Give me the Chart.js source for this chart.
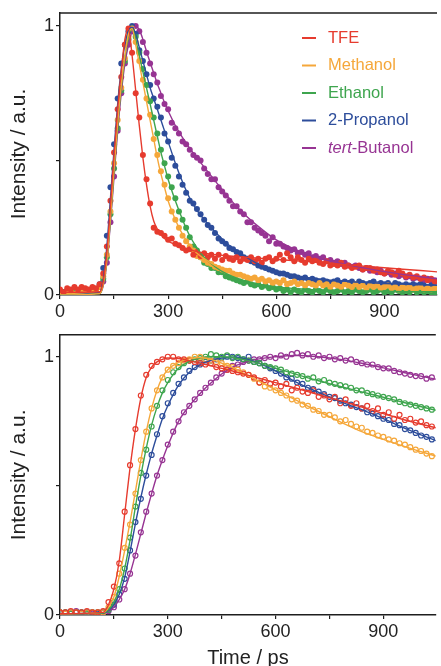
<!DOCTYPE html>
<html>
<head>
<meta charset="utf-8">
<script src="https://cdn.jsdelivr.net/npm/chart.js@4.4.1/dist/chart.umd.min.js"></script>
<style>
html, body { margin: 0; padding: 0; background: #fff; overflow: hidden; width: 441px; height: 666px; }
#topChart { position: absolute; left: 0; top: 0; }
#bottomChart { position: absolute; left: 0; top: 322px; }
</style>
</head>
<body>
<canvas id="topChart" width="441" height="322"></canvas>
<canvas id="bottomChart" width="441" height="350"></canvas>
<script>
/* Series names and colours */
var seriesNames = ['TFE', 'Methanol', 'Ethanol', '2-Propanol', 'tert-Butanol'];
var seriesColors = ['#e63b2e', '#f5a73a', '#3ea54e', '#2d4d9b', '#973493'];

/* Tick labels */
var xTickValues = [0, 150, 300, 450, 600, 750, 900];
var xTickLabels = ['0', '', '300', '', '600', '', '900'];
var yTickValues = [0, 0.5, 1];
var yTickLabels = ['0', '', '1'];

/* Upper panel: measured points (ps) */
var timeTop = [0,10,20,30,40,50,60,70,80,90,100,110,120,130,140,150,160,170,180,190,200,210,220,230,240,250,260,270,280,290,
  300,310,320,330,340,350,360,370,380,390,400,410,420,430,440,450,460,470,480,490,500,510,520,530,540,550,560,570,580,590,
  600,610,620,630,640,650,660,670,680,690,700,710,720,730,740,750,760,770,780,790,800,810,820,830,840,850,860,870,880,890,
  900,910,920,930,940,950,960,970,980,990,1000,1010,1020,1030,1040];

var tfeTop = [0.02,0.01,0.025,0.02,0.03,0.02,0.03,0.025,0.02,0.03,
  0.025,0.04,0.08,0.18,0.35,0.53,0.69,0.81,0.93,0.99,
  0.90,0.75,0.66,0.52,0.43,0.34,0.25,0.235,0.23,0.22,
  0.205,0.21,0.19,0.185,0.175,0.165,0.17,0.15,0.16,0.145,
  0.155,0.14,0.15,0.135,0.15,0.13,0.145,0.135,0.13,0.14,
  0.125,0.135,0.13,0.14,0.125,0.135,0.12,0.135,0.14,0.125,
  0.135,0.15,0.13,0.155,0.14,0.125,0.14,0.13,0.12,0.135,
  0.125,0.13,0.12,0.115,0.125,0.11,0.115,0.11,0.12,0.105,
  0.11,0.10,0.105,0.11,0.095,0.10,0.10,0.09,0.095,0.085,
  0.08,0.09,0.085,0.075,0.09,0.08,0.07,0.075,0.065,0.07,
  0.06,0.065,0.055,0.06,0.05];
var methanolTop = [0.01,0.005,0.01,0.015,0.005,0.01,0.01,0.015,0.01,0.01,
  0.02,0.03,0.07,0.15,0.31,0.49,0.65,0.77,0.88,0.96,
  0.99,0.94,0.87,0.80,0.73,0.67,0.58,0.52,0.46,0.41,
  0.36,0.31,0.28,0.25,0.22,0.20,0.18,0.165,0.145,0.14,
  0.13,0.12,0.115,0.105,0.10,0.095,0.09,0.09,0.08,0.075,
  0.075,0.07,0.065,0.06,0.065,0.055,0.06,0.05,0.055,0.045,
  0.05,0.045,0.055,0.04,0.045,0.05,0.04,0.045,0.035,0.045,
  0.04,0.035,0.045,0.035,0.04,0.03,0.04,0.035,0.03,0.04,
  0.035,0.03,0.04,0.03,0.035,0.025,0.035,0.03,0.035,0.025,
  0.03,0.035,0.025,0.03,0.02,0.03,0.025,0.03,0.02,0.025,
  0.03,0.02,0.025,0.02,0.025];
var ethanolTop = [0.005,0.01,0.005,0.01,0.01,0.005,0.01,0.01,0.015,0.01,
  0.015,0.03,0.06,0.14,0.30,0.47,0.62,0.76,0.87,0.95,
  0.99,0.96,0.90,0.84,0.78,0.72,0.66,0.60,0.54,0.49,
  0.44,0.40,0.36,0.31,0.28,0.25,0.215,0.18,0.165,0.14,
  0.12,0.115,0.10,0.10,0.085,0.085,0.07,0.065,0.06,0.055,
  0.05,0.045,0.05,0.04,0.035,0.04,0.03,0.035,0.025,0.03,
  0.02,0.025,0.015,0.02,0.01,0.02,0.015,0.01,0.02,0.015,
  0.01,0.02,0.015,0.01,0.02,0.015,0.01,0.015,0.02,0.01,
  0.015,0.01,0.02,0.015,0.01,0.015,0.02,0.01,0.015,0.02,
  0.01,0.015,0.01,0.02,0.015,0.01,0.015,0.01,0.02,0.01,
  0.015,0.01,0.015,0.01,0.01];
var propanolTop = [0.005,0.01,0.01,0.005,0.01,0.015,0.01,0.01,0.015,0.02,
  0.02,0.04,0.10,0.22,0.40,0.56,0.73,0.86,0.93,0.98,
  1.0,0.97,0.91,0.87,0.82,0.78,0.73,0.70,0.66,0.60,
  0.57,0.51,0.48,0.44,0.41,0.38,0.35,0.34,0.32,0.30,
  0.28,0.26,0.25,0.23,0.21,0.20,0.19,0.175,0.17,0.16,
  0.155,0.14,0.135,0.125,0.12,0.11,0.105,0.10,0.095,0.09,
  0.085,0.08,0.08,0.075,0.07,0.07,0.065,0.06,0.065,0.055,
  0.06,0.055,0.05,0.055,0.05,0.045,0.05,0.055,0.045,0.05,
  0.045,0.05,0.04,0.05,0.045,0.04,0.045,0.05,0.04,0.045,
  0.04,0.045,0.035,0.045,0.04,0.035,0.04,0.035,0.04,0.035,
  0.04,0.035,0.03,0.035,0.03];
var butanolTop = [0.005,0.01,0.01,0.005,0.01,0.01,0.015,0.02,0.015,0.02,
  0.015,0.03,0.05,0.12,0.27,0.44,0.61,0.75,0.86,0.93,
  0.98,1.0,0.98,0.94,0.90,0.86,0.82,0.79,0.74,0.71,
  0.69,0.64,0.62,0.60,0.57,0.56,0.54,0.52,0.51,0.50,
  0.47,0.45,0.43,0.43,0.40,0.385,0.37,0.35,0.33,0.33,
  0.31,0.30,0.27,0.27,0.25,0.24,0.23,0.22,0.20,0.215,
  0.19,0.19,0.18,0.175,0.165,0.17,0.155,0.16,0.15,0.155,
  0.14,0.145,0.135,0.14,0.125,0.13,0.12,0.125,0.115,0.12,
  0.11,0.105,0.11,0.10,0.095,0.10,0.09,0.095,0.085,0.09,
  0.08,0.085,0.075,0.08,0.07,0.075,0.065,0.07,0.06,0.065,
  0.06,0.055,0.06,0.05,0.055];

/* Upper panel: fitted curves */
var fitTimeTop = [0,110,120,130,140,150,160,170,180,190,200,210,220,230,240,250,260,270,280,290,
  300,320,340,360,380,400,430,460,500,550,600,700,800,900,1000,1046];
var tfeFitTop = [0.01,0.012,0.05,0.16,0.33,0.52,0.69,0.83,0.95,0.99,0.89,0.76,0.63,0.51,0.41,0.33,0.275,0.245,0.225,0.21,
  0.20,0.187,0.177,0.168,0.161,0.155,0.15,0.146,0.142,0.137,0.132,0.123,0.112,0.101,0.091,0.086];
var methanolFitTop = [0,0.005,0.04,0.13,0.29,0.47,0.64,0.78,0.89,0.97,0.99,0.93,0.86,0.79,0.72,0.65,0.58,0.51,0.45,0.40,
  0.35,0.28,0.225,0.185,0.155,0.135,0.11,0.093,0.076,0.062,0.053,0.043,0.036,0.031,0.027,0.025];
var ethanolFitTop = [0,0.005,0.04,0.13,0.28,0.46,0.63,0.77,0.88,0.96,0.99,0.95,0.89,0.83,0.77,0.71,0.65,0.59,0.53,0.48,
  0.43,0.35,0.28,0.22,0.175,0.14,0.105,0.08,0.058,0.04,0.03,0.02,0.016,0.014,0.012,0.012];
var propanolFitTop = [0,0.01,0.06,0.18,0.36,0.54,0.71,0.84,0.93,0.98,0.995,0.97,0.92,0.87,0.82,0.77,0.73,0.69,0.65,0.61,
  0.57,0.49,0.42,0.36,0.315,0.28,0.235,0.195,0.155,0.115,0.088,0.062,0.05,0.043,0.038,0.036];
var butanolFitTop = [0,0.005,0.035,0.12,0.27,0.44,0.61,0.75,0.86,0.93,0.98,1.0,0.985,0.95,0.905,0.865,0.825,0.785,0.75,0.715,
  0.685,0.63,0.585,0.545,0.51,0.475,0.425,0.375,0.315,0.255,0.205,0.145,0.112,0.087,0.068,0.06];

/* Lower panel: measured points (ps) */
var timeBottom = [0,15,30,45,60,75,90,105,120,135,150,165,180,195,210,225,240,255,270,285,
  300,315,330,345,360,375,390,405,420,435,450,465,480,495,510,525,540,555,570,585,
  600,615,630,645,660,675,690,705,720,735,750,765,780,795,810,825,840,855,870,885,
  900,915,930,945,960,975,990,1005,1020,1035];

var tfeBottom = [0.01,0.01,0.015,0.01,0.01,0.015,0.01,0.01,0.015,0.05,
  0.11,0.20,0.40,0.58,0.72,0.85,0.93,0.965,0.98,0.99,
  1.0,1.0,0.99,0.99,0.985,0.98,0.975,0.97,0.975,0.96,
  0.955,0.95,0.945,0.94,0.935,0.93,0.92,0.90,0.91,0.895,
  0.90,0.885,0.895,0.87,0.88,0.865,0.86,0.87,0.845,0.85,
  0.835,0.845,0.82,0.835,0.81,0.82,0.80,0.81,0.79,0.80,
  0.775,0.785,0.76,0.775,0.755,0.76,0.745,0.75,0.735,0.73];
var methanolBottom = [0.01,0.005,0.01,0.01,0.005,0.01,0.01,0.01,0.01,0.03,
  0.07,0.16,0.26,0.35,0.47,0.60,0.71,0.80,0.87,0.92,
  0.95,0.965,0.975,0.985,0.99,1.0,1.0,0.99,0.985,0.98,
  0.975,0.965,0.96,0.95,0.94,0.93,0.915,0.90,0.885,0.88,
  0.87,0.86,0.85,0.835,0.83,0.815,0.81,0.795,0.79,0.775,
  0.775,0.765,0.75,0.755,0.74,0.73,0.725,0.71,0.705,0.695,
  0.69,0.68,0.675,0.665,0.66,0.65,0.64,0.635,0.625,0.615];
var ethanolBottom = [0.01,0.01,0.005,0.01,0.01,0.005,0.01,0.01,0.01,0.02,
  0.05,0.10,0.18,0.30,0.42,0.55,0.64,0.73,0.81,0.87,
  0.91,0.94,0.96,0.975,0.985,0.99,0.995,1.0,1.01,1.005,
  1.0,1.005,0.995,1.0,0.99,0.985,0.98,0.975,0.965,0.96,
  0.955,0.95,0.94,0.935,0.93,0.925,0.915,0.92,0.905,0.91,
  0.90,0.895,0.89,0.885,0.88,0.87,0.87,0.86,0.855,0.85,
  0.845,0.84,0.835,0.825,0.82,0.815,0.81,0.805,0.80,0.795];
var propanolBottom = [0.01,0.005,0.01,0.01,0.005,0.01,0.01,0.005,0.01,0.02,
  0.04,0.08,0.14,0.25,0.36,0.45,0.54,0.62,0.70,0.77,
  0.82,0.86,0.895,0.92,0.945,0.96,0.97,0.98,0.985,0.99,
  0.995,1.0,1.0,0.995,0.99,1.0,0.98,0.975,0.965,0.955,
  0.945,0.935,0.92,0.915,0.90,0.895,0.88,0.875,0.865,0.855,
  0.845,0.84,0.83,0.82,0.815,0.805,0.80,0.785,0.78,0.77,
  0.76,0.755,0.74,0.735,0.72,0.715,0.705,0.695,0.69,0.68];
var butanolBottom = [0.01,0.01,0.005,0.015,0.01,0.01,0.005,0.01,0.01,0.015,
  0.03,0.06,0.10,0.16,0.23,0.32,0.40,0.47,0.54,0.60,
  0.66,0.71,0.75,0.785,0.81,0.835,0.86,0.88,0.90,0.92,
  0.935,0.95,0.965,0.97,0.98,0.985,0.99,0.99,0.995,1.0,
  0.995,1.005,1.0,1.01,1.015,1.005,1.01,1.0,1.005,0.995,
  1.0,0.99,0.995,0.985,0.99,0.98,0.975,0.97,0.97,0.96,
  0.955,0.955,0.945,0.94,0.935,0.93,0.925,0.925,0.915,0.92];

/* Lower panel: fitted curves */
var fitTimeBottom = [0,120,135,150,165,180,195,210,225,240,255,270,285,300,330,360,390,420,450,480,
  540,600,660,720,780,840,900,960,1046];
var tfeFitBottom = [0.005,0.01,0.04,0.10,0.21,0.39,0.57,0.72,0.84,0.92,0.96,0.98,0.99,0.995,0.993,0.985,0.975,0.965,0.955,0.945,
  0.922,0.90,0.877,0.853,0.83,0.805,0.78,0.755,0.725];
var methanolFitBottom = [0.005,0.01,0.03,0.07,0.15,0.25,0.36,0.48,0.60,0.71,0.80,0.87,0.92,0.95,0.978,0.992,0.997,0.99,0.975,0.958,
  0.915,0.872,0.83,0.788,0.748,0.71,0.68,0.652,0.615];
var ethanolFitBottom = [0.005,0.008,0.02,0.05,0.10,0.18,0.29,0.42,0.54,0.645,0.735,0.805,0.86,0.90,0.955,0.982,0.995,1.0,1.0,0.997,
  0.98,0.956,0.931,0.907,0.885,0.864,0.843,0.822,0.793];
var propanolFitBottom = [0.005,0.008,0.018,0.04,0.08,0.145,0.245,0.355,0.455,0.545,0.625,0.695,0.76,0.81,0.89,0.94,0.97,0.986,0.995,0.998,
  0.982,0.945,0.90,0.862,0.826,0.795,0.76,0.723,0.675];
var butanolFitBottom = [0.005,0.008,0.015,0.03,0.06,0.10,0.16,0.235,0.315,0.395,0.47,0.54,0.60,0.655,0.75,0.81,0.858,0.898,0.933,0.96,
  0.988,1.0,1.005,1.0,0.99,0.975,0.957,0.938,0.913];

var fontFamily = "'Liberation Sans', Arial, Helvetica, sans-serif";

function toPoints(xs, ys) {
    return xs.map(function(x, i) { return {x: x, y: ys[i]}; });
}

/* Draws the frame line along the top of the plot area */
var framePlugin = {
    id: 'topFrame',
    afterDraw: function(chart) {
        var ctx = chart.ctx, area = chart.chartArea;
        ctx.save();
        ctx.strokeStyle = '#1e1e1e';
        ctx.lineWidth = 1.5;
        ctx.beginPath();
        ctx.moveTo(area.left, area.top);
        ctx.lineTo(area.right, area.top);
        ctx.stroke();
        ctx.restore();
    }
};

/* Legend with coloured text and italic "tert" */
var legendPlugin = {
    id: 'solventLegend',
    afterDatasetsDraw: function(chart, args, opts) {
        if (!opts.show) return;
        var ctx = chart.ctx;
        ctx.save();
        ctx.textBaseline = 'middle';
        seriesNames.forEach(function(name, i) {
            var y = 38 + i * 27.5;
            var x = 328;
            ctx.strokeStyle = seriesColors[i];
            ctx.lineWidth = 2;
            ctx.beginPath();
            ctx.moveTo(302, y);
            ctx.lineTo(316, y);
            ctx.stroke();
            ctx.fillStyle = seriesColors[i];
            if (name.indexOf('tert') === 0) {
                ctx.font = 'italic 16.5px ' + fontFamily;
                ctx.fillText('tert', x, y);
                x += ctx.measureText('tert').width;
                name = name.slice(4);
            }
            ctx.font = '16.5px ' + fontFamily;
            ctx.fillText(name, x, y);
        });
        ctx.restore();
    }
};

function drawPanel(canvasId, panel) {
    var ctx = document.getElementById(canvasId).getContext('2d');
    var datasets = [];
    panel.fits.forEach(function(fit, i) {
        datasets.push({
            label: seriesNames[i] + ' fit',
            data: toPoints(panel.fitTime, fit),
            showLine: true,
            borderColor: seriesColors[i],
            borderWidth: 1.4,
            pointRadius: 0,
            cubicInterpolationMode: 'monotone',
            order: 0
        });
    });
    panel.points.forEach(function(pts, i) {
        datasets.push({
            label: seriesNames[i],
            data: toPoints(panel.time, pts),
            showLine: false,
            pointRadius: panel.open ? 2.5 : 3,
            pointBorderWidth: panel.open ? 1.2 : 0,
            pointBorderColor: seriesColors[i],
            pointBackgroundColor: panel.open ? 'rgba(255,255,255,0)' : seriesColors[i],
            order: 1 + i
        });
    });

    var chart = new Chart(ctx, {
        type: 'scatter',
        data: { datasets: datasets },
        options: {
            responsive: false,
            animation: false,
            devicePixelRatio: 1,
            layout: { padding: { top: panel.padTop, left: 0, right: 0, bottom: 0 } },
            plugins: {
                legend: { display: false },
                tooltip: { enabled: false },
                solventLegend: { show: panel.legend }
            },
            scales: {
                x: {
                    type: 'linear',
                    min: 0,
                    max: 1046,
                    afterFit: function(scale) { scale.height = panel.xAxisHeight; },
                    afterBuildTicks: function(scale) {
                        scale.ticks = xTickValues.map(function(v) { return {value: v}; });
                    },
                    border: { color: '#1e1e1e', width: 1.5 },
                    grid: { drawOnChartArea: false, tickLength: 4, color: '#1e1e1e', lineWidth: 1.2 },
                    ticks: {
                        autoSkip: false,
                        maxRotation: 0,
                        padding: 2,
                        color: '#222',
                        font: { family: fontFamily, size: 18 },
                        callback: function(value, index) { return xTickLabels[index]; }
                    },
                    title: {
                        display: panel.xTitle,
                        text: 'Time / ps',
                        color: '#222',
                        font: { family: fontFamily, size: 20 },
                        padding: { top: 0, bottom: 2 }
                    }
                },
                y: {
                    type: 'linear',
                    min: 0,
                    max: panel.yMax,
                    afterFit: function(scale) { scale.width = 60; },
                    afterBuildTicks: function(scale) {
                        scale.ticks = yTickValues.map(function(v) { return {value: v}; });
                    },
                    border: { color: '#1e1e1e', width: 1.5 },
                    grid: { drawOnChartArea: false, tickLength: 4, color: '#1e1e1e', lineWidth: 1.2 },
                    ticks: {
                        padding: 2,
                        color: '#222',
                        font: { family: fontFamily, size: 18 },
                        callback: function(value, index) { return yTickLabels[index]; }
                    },
                    title: {
                        display: true,
                        text: 'Intensity / a.u.',
                        color: '#222',
                        font: { family: fontFamily, size: 21 },
                        padding: { top: 7, bottom: 0 }
                    }
                }
            }
        },
        plugins: [framePlugin, legendPlugin]
    });
    return chart;
}

drawPanel('topChart', {
    time: timeTop,
    points: [tfeTop, methanolTop, ethanolTop, propanolTop, butanolTop],
    fitTime: fitTimeTop,
    fits: [tfeFitTop, methanolFitTop, ethanolFitTop, propanolFitTop, butanolFitTop],
    open: false,
    legend: true,
    xTitle: false,
    padTop: 13,
    xAxisHeight: 27,
    yMax: 1.048
});

drawPanel('bottomChart', {
    time: timeBottom,
    points: [tfeBottom, methanolBottom, ethanolBottom, propanolBottom, butanolBottom],
    fitTime: fitTimeBottom,
    fits: [tfeFitBottom, methanolFitBottom, ethanolFitBottom, propanolFitBottom, butanolFitBottom],
    open: true,
    legend: false,
    xTitle: true,
    padTop: 11,
    xAxisHeight: 57,
    yMax: 1.085
});
</script>
</body>
</html>
